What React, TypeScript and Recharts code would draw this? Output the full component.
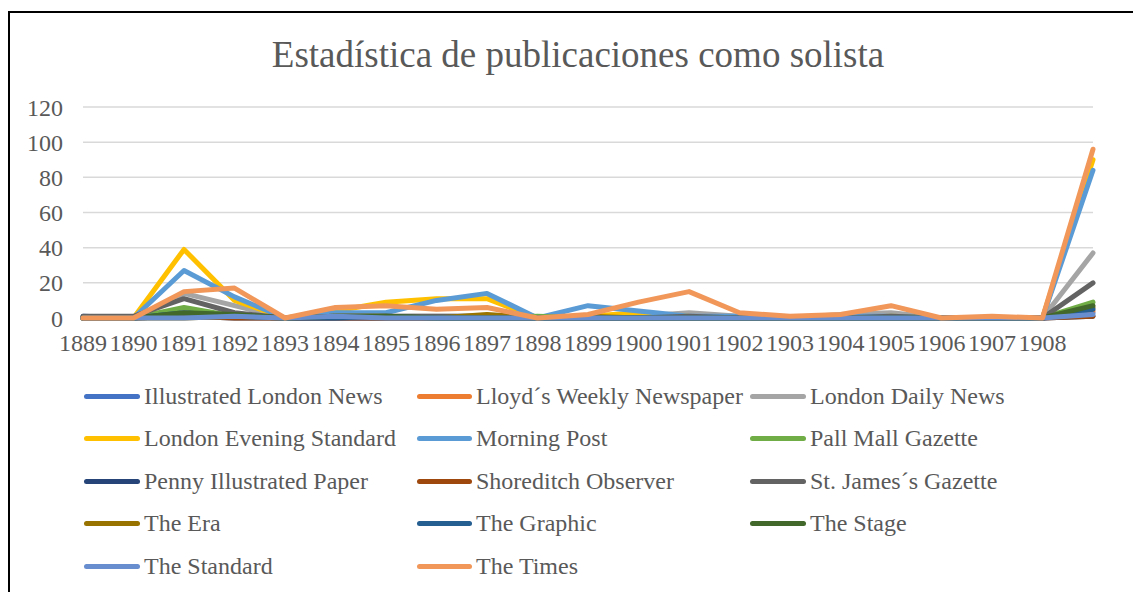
import { LineChart, Line, XAxis, YAxis, CartesianGrid } from "recharts"

// 21st category is the unlabeled total column
const years = [
  "1889", "1890", "1891", "1892", "1893", "1894", "1895", "1896", "1897", "1898",
  "1899", "1900", "1901", "1902", "1903", "1904", "1905", "1906", "1907", "1908", "",
]

const illustratedLondonNews = [1, 0, 1, 1, 0, 0, 0, 0, 0, 0, 0, 0, 0, 0, 0, 0, 0, 0, 0, 0, 3]
const lloydsWeekly = [0, 0, 2, 1, 0, 1, 0, 0, 0, 0, 0, 0, 0, 0, 0, 0, 0, 0, 0, 0, 4]
const londonDailyNews = [0, 0, 14, 7, 0, 2, 1, 1, 1, 0, 1, 1, 3, 1, 0, 2, 3, 0, 0, 0, 37]
const londonEveningStandard = [0, 0, 39, 10, 0, 4, 9, 11, 11, 0, 1, 3, 1, 0, 0, 0, 1, 0, 0, 0, 90]
const morningPost = [0, 0, 27, 12, 0, 3, 3, 10, 14, 0, 7, 4, 1, 1, 0, 1, 1, 0, 0, 0, 84]
const pallMall = [0, 0, 6, 1, 0, 1, 0, 0, 0, 1, 0, 0, 0, 0, 0, 0, 0, 0, 0, 0, 9]
const pennyIllustrated = [0, 0, 1, 0, 0, 0, 0, 0, 0, 0, 0, 0, 0, 0, 0, 0, 0, 0, 0, 0, 1]
const shoreditch = [0, 0, 1, 0, 0, 0, 0, 0, 0, 0, 0, 0, 0, 0, 0, 0, 0, 0, 0, 0, 1]
const stJames = [1, 1, 11, 3, 0, 1, 1, 1, 1, 0, 0, 0, 1, 0, 0, 0, 1, 0, 0, 0, 20]
const theEra = [0, 0, 0, 1, 0, 1, 1, 0, 2, 0, 1, 0, 0, 0, 0, 0, 0, 0, 0, 0, 6]
const theGraphic = [0, 0, 3, 1, 0, 0, 1, 0, 0, 0, 0, 0, 0, 0, 0, 0, 0, 0, 0, 0, 5]
const theStage = [0, 0, 3, 2, 0, 1, 1, 0, 0, 0, 0, 0, 0, 0, 0, 0, 0, 0, 0, 0, 7]
const theStandard = [0, 0, 0, 1, 0, 1, 0, 0, 0, 0, 0, 0, 0, 0, 0, 0, 0, 0, 0, 0, 2]
const theTimes = [0, 0, 15, 17, 0, 6, 7, 5, 6, 0, 2, 9, 15, 3, 1, 2, 7, 0, 1, 0, 96]

const yTicks = [0, 20, 40, 60, 80, 100, 120]

const series = [
  { key: "iln", name: "Illustrated London News", color: "#4472C4", values: illustratedLondonNews },
  { key: "lloyd", name: "Lloyd´s Weekly Newspaper", color: "#ED7D31", values: lloydsWeekly },
  { key: "ldn", name: "London Daily News", color: "#A5A5A5", values: londonDailyNews },
  { key: "les", name: "London Evening Standard", color: "#FFC000", values: londonEveningStandard },
  { key: "mp", name: "Morning Post", color: "#5B9BD5", values: morningPost },
  { key: "pmg", name: "Pall Mall Gazette", color: "#70AD47", values: pallMall },
  { key: "pip", name: "Penny Illustrated Paper", color: "#264478", values: pennyIllustrated },
  { key: "so", name: "Shoreditch Observer", color: "#9E480E", values: shoreditch },
  { key: "sjg", name: "St. James´s Gazette", color: "#636363", values: stJames },
  { key: "era", name: "The Era", color: "#997300", values: theEra },
  { key: "graphic", name: "The Graphic", color: "#255E91", values: theGraphic },
  { key: "stage", name: "The Stage", color: "#43682B", values: theStage },
  { key: "standard", name: "The Standard", color: "#698ED0", values: theStandard },
  { key: "times", name: "The Times", color: "#F1975A", values: theTimes },
]

const data = years.map((y, i) => {
  const row: Record<string, string | number> = { year: y }
  series.forEach((s) => {
    row[s.key] = s.values[i]
  })
  return row
})

const font = "'Liberation Serif', 'Times New Roman', serif"
const textColor = "#595959"

// legend column positions: swatch left, swatch width
const legendCols = [
  { x: 84, w: 56 },
  { x: 417, w: 55 },
  { x: 750, w: 56 },
]
const legendRows = [396, 438, 481, 523, 566]

export default function App() {
  return (
    <div
      style={{
        position: "absolute",
        left: 0,
        top: 0,
        width: 1133,
        height: 592,
        background: "#fff",
        overflow: "hidden",
        fontFamily: font,
      }}
    >
      <div
        style={{
          position: "absolute",
          left: 8,
          top: 11,
          width: 1200,
          height: 700,
          borderTop: "2px solid #000",
          borderLeft: "2px solid #000",
        }}
      />
      <div
        style={{
          position: "absolute",
          left: 0,
          top: 33,
          width: 1156,
          textAlign: "center",
          fontSize: 37,
          color: textColor,
          lineHeight: "44px",
        }}
      >
        Estadística de publicaciones como solista
      </div>
      <div style={{ position: "absolute", left: 0, top: 0 }}>
        <LineChart
          width={1133}
          height={592}
          data={data}
          margin={{ top: 107, right: 40, left: 0, bottom: 244 }}
        >
          <CartesianGrid vertical={false} stroke="#D9D9D9" strokeWidth={1.5} />
          <XAxis
            dataKey="year"
            axisLine={false}
            tickLine={false}
            interval={0}
            height={30}
            tick={{ fontSize: 24, fontFamily: font, fill: textColor }}
            tickMargin={10}
          />
          <YAxis
            domain={[0, 120]}
            ticks={yTicks}
            width={83}
            axisLine={false}
            tickLine={false}
            tickMargin={14}
            tick={{ fontSize: 24, fontFamily: font, fill: textColor }}
          />
          {series.map((s) => (
            <Line
              key={s.key}
              dataKey={s.key}
              name={s.name}
              type="linear"
              stroke={s.color}
              strokeWidth={5}
              strokeLinecap="round"
              strokeLinejoin="round"
              dot={false}
              activeDot={false}
              isAnimationActive={false}
            />
          ))}
        </LineChart>
      </div>
      {series.map((s, i) => {
        const col = legendCols[i % 3]
        const top = legendRows[Math.floor(i / 3)]
        return (
          <div
            key={s.key}
            style={{
              position: "absolute",
              left: col.x,
              top: top - 15,
              height: 30,
              display: "flex",
              alignItems: "center",
              whiteSpace: "nowrap",
            }}
          >
            <div
              style={{
                width: col.w,
                height: 5,
                borderRadius: 3,
                background: s.color,
                marginRight: 4,
              }}
            />
            <span style={{ fontSize: 24, color: textColor }}>{s.name}</span>
          </div>
        )
      })}
    </div>
  )
}
